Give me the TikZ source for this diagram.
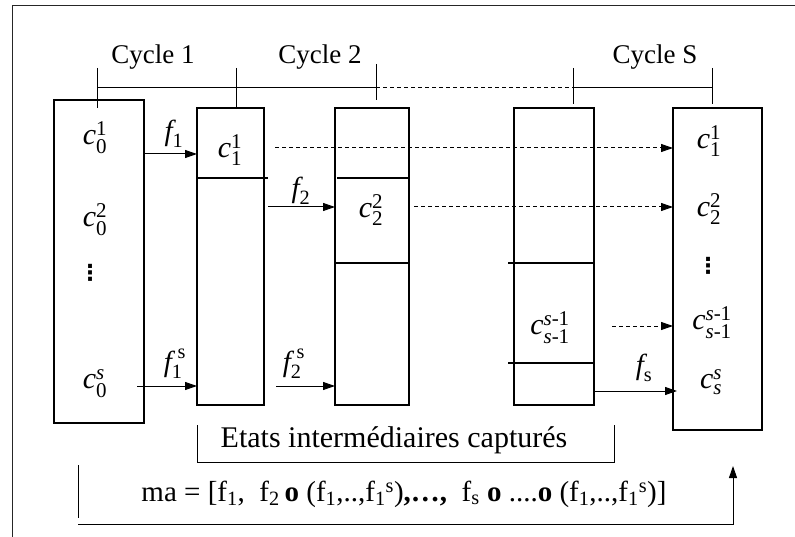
\documentclass[tikz,border=0pt]{standalone}
\usepackage{fontspec}
\usepackage{amsmath}
\setmainfont{Liberation Serif}
\newfontfamily\symfont{DejaVu Sans}
\usetikzlibrary{arrows.meta}
\newcommand\cell[2]{$\textit{c}^{\text{#1}}_{\text{#2}}$}
\begin{document}
\begin{tikzpicture}[x=1pt,y=-1pt,
  box/.style={draw,line width=1.3pt,inner sep=0pt,outer sep=0pt,anchor=north west},
  divl/.style={line width=1.3pt},
  tl/.style={line width=1pt},
  arr/.style={line width=1pt,-{Triangle[length=12pt,width=8pt]}},
  darr/.style={arr,dash pattern=on 4pt off 3pt},
  cyc/.style={inner sep=0pt,font=\fontsize{27}{30}\selectfont},
  cl/.style={inner sep=0pt,font=\fontsize{30}{32}\selectfont},
  dots/.style={inner sep=0pt,font=\symfont\bfseries\fontsize{22}{22}\selectfont},
  fl/.style={inner sep=0pt,font=\fontsize{29}{32}\selectfont},
  big/.style={inner sep=0pt,font=\fontsize{30}{32}\selectfont},
  fm/.style={inner sep=0pt,font=\fontsize{29}{32}\selectfont},
  frame/.style={line width=0.8pt,black!85}]
\useasboundingbox (0,0) rectangle (795,537);
% outer frame
\draw[frame] (795,5) -- (12,5) -- (12,537);
% boxes
\node[box,minimum width=90pt,minimum height=323pt] (b0) at (54,100) {};
\node[box,minimum width=67pt,minimum height=297pt] (b1) at (197,108) {};
\node[box,minimum width=74pt,minimum height=297pt] (b2) at (335,108) {};
\node[box,minimum width=80pt,minimum height=297pt] (b3) at (514,108) {};
\node[box,minimum width=89pt,minimum height=322pt] (bS) at (673,108) {};
% dividers
\draw[divl] (b1.west |- 0,178) -- (268,178);
\draw[divl] (337,178) -- (410,178);
\draw[divl] (b2.west |- 0,263) -- (410,263);
\draw[divl] (508,263) -- (b3.east |- 0,263);
\draw[divl] (508,363) -- (b3.east |- 0,363);
% timeline
\coordinate (t0) at (97,88);
\coordinate (t1) at (236,88);
\coordinate (t2) at (376,88);
\coordinate (t3) at (573,88);
\coordinate (t4) at (712,88);
\draw[tl] (t0) -- (t2);
\draw[tl,dash pattern=on 4pt off 3pt] (t2) -- (t3);
\draw[tl] (t3) -- (t4);
\draw[tl] (97,68) -- (97,108);
\draw[tl] (236,68) -- (b1.north -| 236,0);
\draw[tl] (376,64) -- (376,100);
\draw[tl] (573,68) -- (573,104);
\draw[tl] (712,68) -- (712,104);
\node[cyc] (cy1) at (153,57) {Cycle 1};
\node[cyc] (cy2) at (320,57) {Cycle 2};
\node[cyc] (cyS) at (655,57) {Cycle S};
% cell labels
\node[cl] (c01) at (95,138) {\cell{1}{0}};
\node[cl] (c02) at (95,220) {\cell{2}{0}};
\node[dots] (d0) at (90,273) {⋮};
\node[cl] (c0s) at (95,384) {$\textit{c}^{\textit{s}}_{\text{0}}$};
\node[cl] (c11) at (230,150) {\cell{1}{1}};
\node[cl] (c22) at (371,210) {\cell{2}{2}};
\node[cl] (c3) at (550,328) {$\textit{c}^{\textit{s}\text{-1}}_{\textit{s}\text{-1}}$};
\node[cl] (cS1) at (709,141) {\cell{1}{1}};
\node[cl] (cS2) at (709,209) {\cell{2}{2}};
\node[dots] (dS) at (708,266) {⋮};
\node[cl] (cS3) at (712,323) {$\textit{c}^{\textit{s}\text{-1}}_{\textit{s}\text{-1}}$};
\node[cl] (cSs) at (711,382) {$\textit{c}^{\textit{s}}_{\textit{s}}$};
% arrows
\draw[arr] (b0.east |- 0,154) -- (b1.west |- 0,154);
\node[fl] (f1) at (174,134) {$\textit{f}_{\text{1}}$};
\draw[arr] (268,207) -- (b2.west |- 0,207);
\node[fl] (f2) at (301,191) {$\textit{f}_{\text{2}}$};
\draw[arr] (137,386) -- (b1.west |- 0,386);
\node[fl] (f1s) at (175,364) {$\textit{f}_{\text{1}}^{\;\text{s}}$};
\draw[arr] (276,386) -- (b2.west |- 0,386);
\node[fl] (f2s) at (294,364) {$\textit{f}_{\text{2}}^{\;\text{s}}$};
\draw[darr] (275,148) -- (bS.west |- 0,148);
\draw[darr] (414,207) -- (bS.west |- 0,207);
\draw[darr] (612,326) -- (bS.west |- 0,326);
\draw[arr] (b3.east |- 0,391) -- (677,391);
\node[fl] (fs) at (644,368) {$\textit{f}_{\text{s}}$};
% intermediate states bracket
\draw[tl] (197,425) -- (197,462) -- (614,462) -- (614,425);
\node[big] (etats) at (394,440) {Etats intermédiaires capturés};
% formula bracket
\draw[tl] (78,465) -- (78,518);
\coordinate (up) at (733,466);
\draw[arr,line width=1pt] (78,524) -- (733,524) -- (up);
\node[fm] (ma) at (404,494) {ma = [f\textsubscript{1},\ \ f\textsubscript{2}\,\textbf{o} (f\textsubscript{1},..,f\textsubscript{1}\textsuperscript{s})\textbf{,…,}\ \ f\textsubscript{s} \textbf{o} ....\textbf{o} (f\textsubscript{1},..,f\textsubscript{1}\textsuperscript{s})]};
\end{tikzpicture}
\end{document}
